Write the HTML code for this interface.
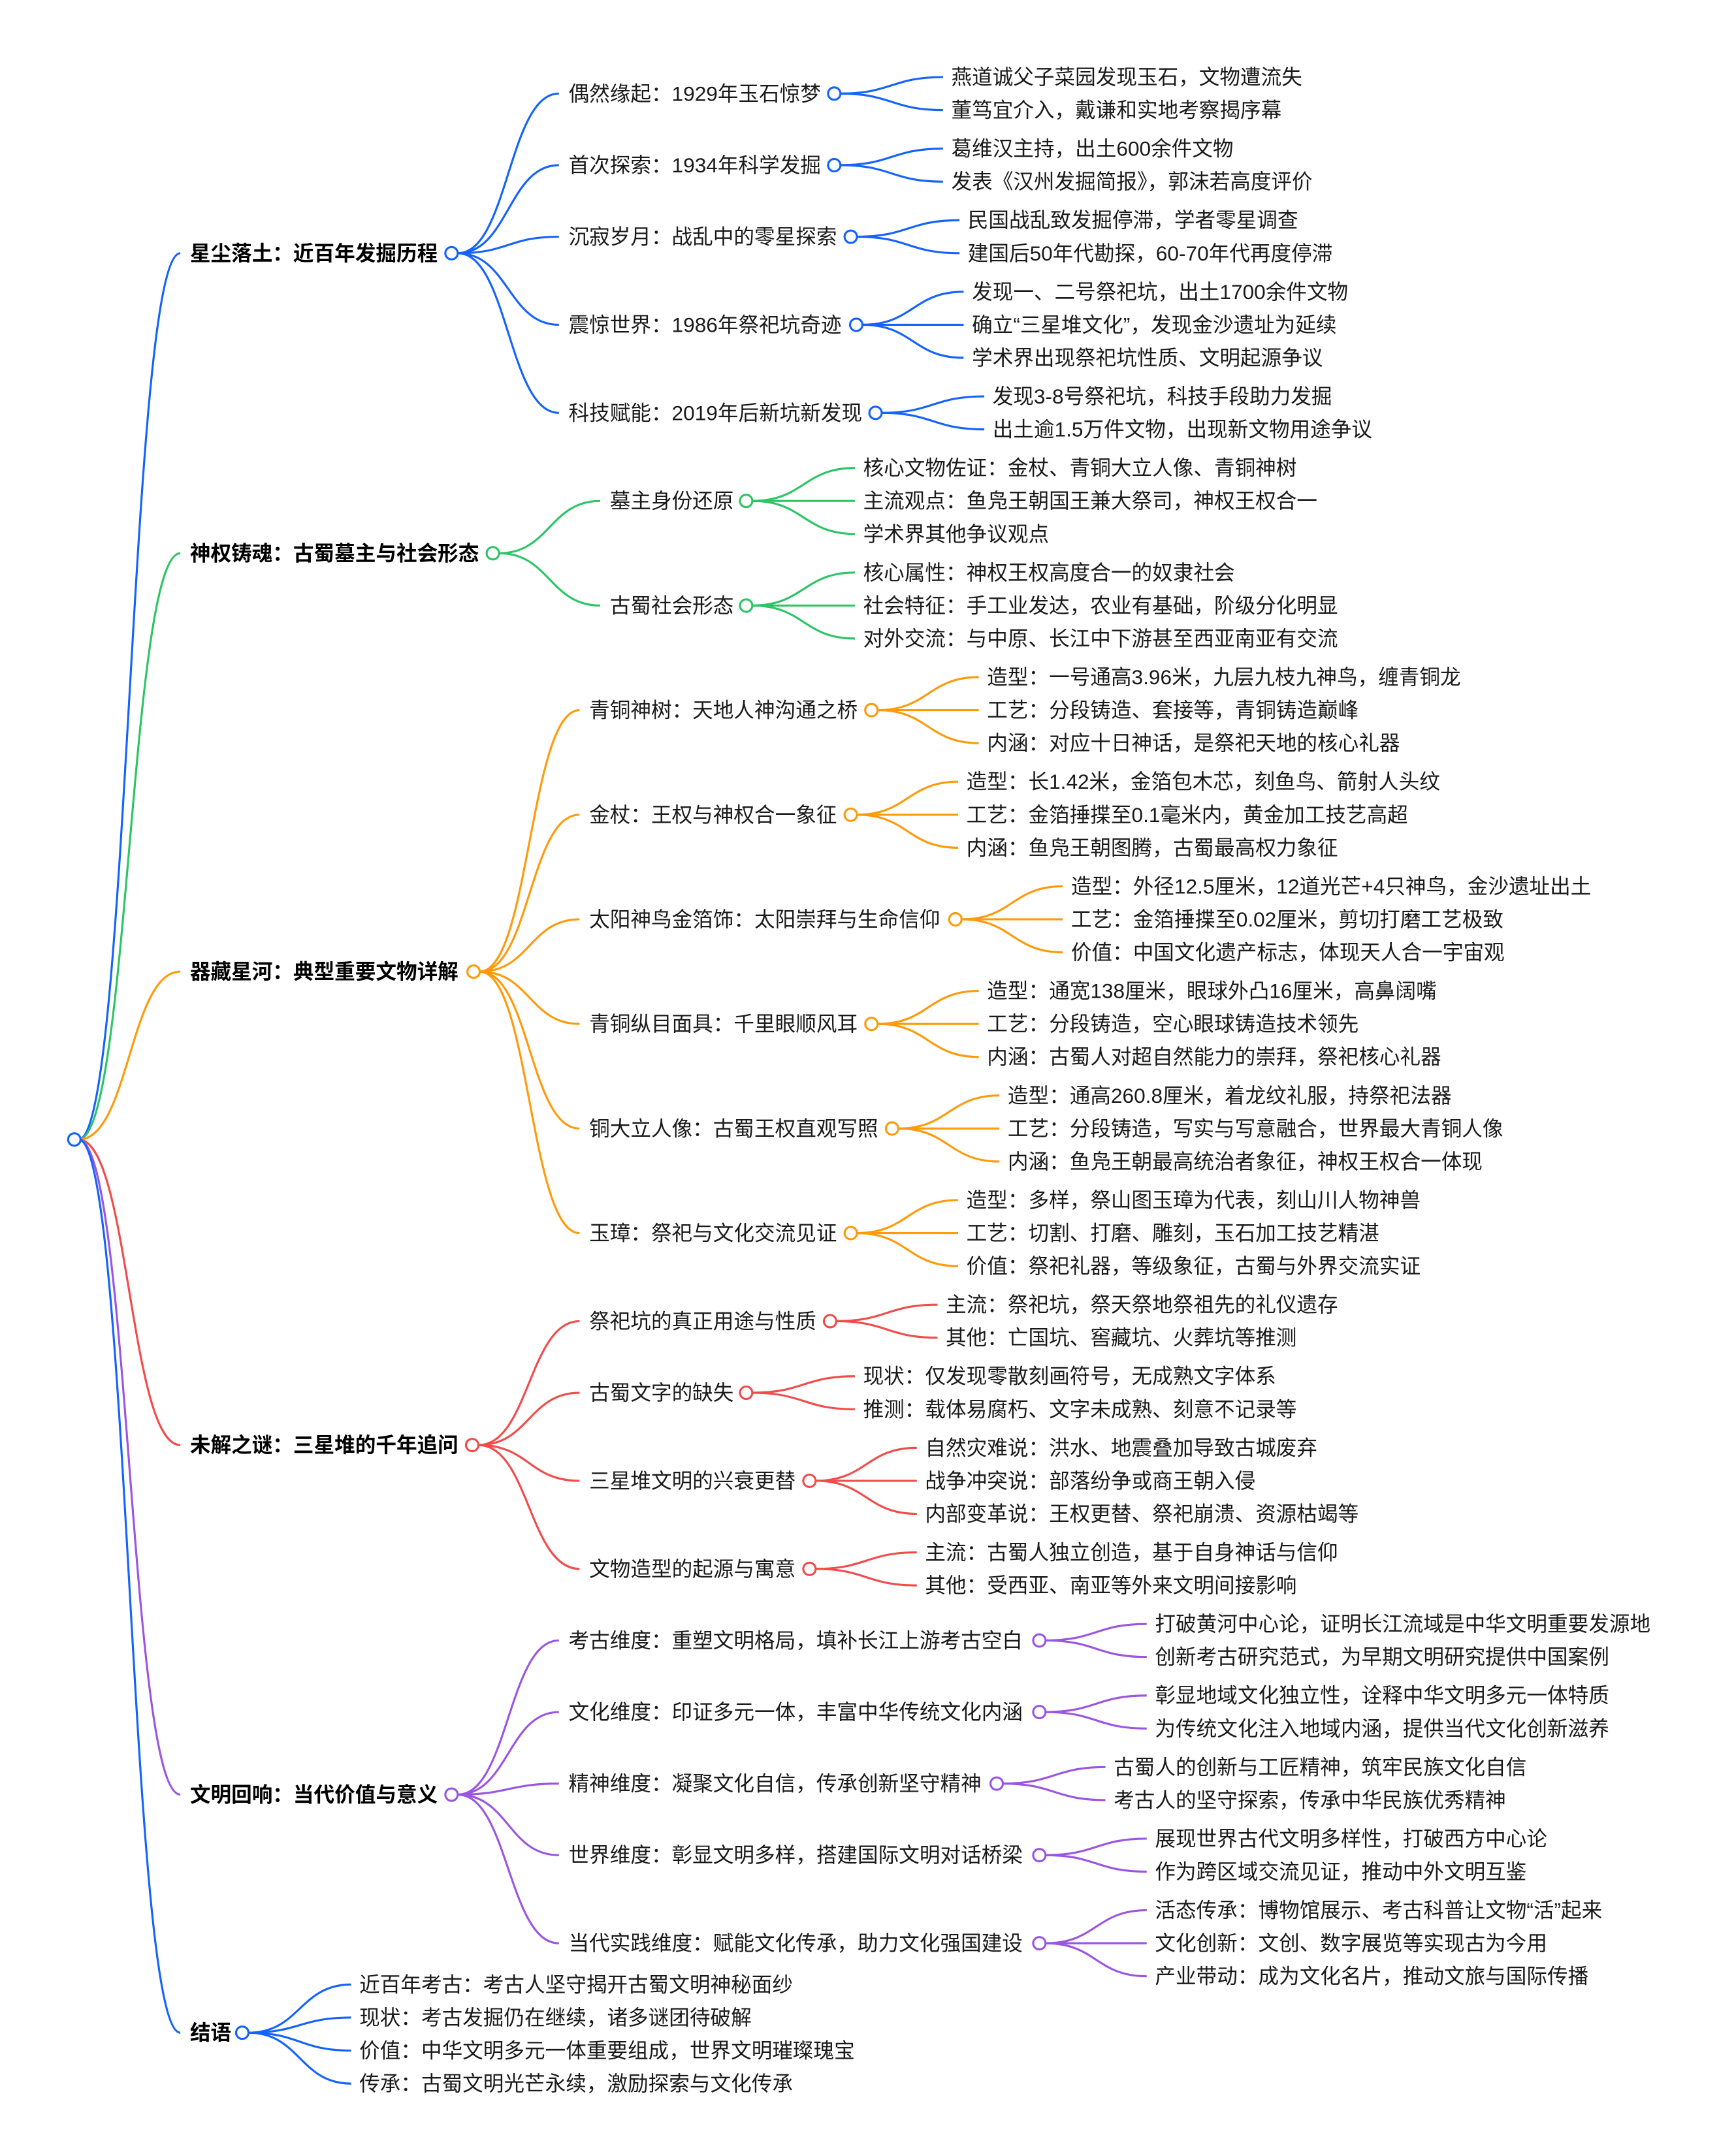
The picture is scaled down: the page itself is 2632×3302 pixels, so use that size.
<!DOCTYPE html>
<html><head><meta charset="utf-8"><style>
html,body{margin:0;padding:0;background:#fff;}
svg{display:block}
text{font-family:"Liberation Sans","Noto Sans CJK SC",sans-serif;font-size:15px;fill:#1a1a1a;dominant-baseline:central}
.b{font-weight:bold;fill:#000}
</style></head><body>
<svg id="s" width="2632" height="3302" viewBox="0 0 1248.7 1566.6" preserveAspectRatio="none" xmlns="http://www.w3.org/2000/svg">
<g id="e" fill="none" stroke-width="1.5"></g>
<g id="c" fill="#fff" stroke-width="1.5"></g>
<g>
<text class="b" x="138" y="184">星尘落土：近百年发掘历程</text>
<text x="413" y="68">偶然缘起：1929年玉石惊梦</text>
<text x="691" y="56">燕道诚父子菜园发现玉石，文物遭流失</text>
<text x="691" y="80">董笃宜介入，戴谦和实地考察揭序幕</text>
<text x="413" y="120">首次探索：1934年科学发掘</text>
<text x="691" y="108">葛维汉主持，出土600余件文物</text>
<text x="691" y="132">发表《汉州发掘简报》，郭沫若高度评价</text>
<text x="413" y="172">沉寂岁月：战乱中的零星探索</text>
<text x="703" y="160">民国战乱致发掘停滞，学者零星调查</text>
<text x="703" y="184">建国后50年代勘探，60-70年代再度停滞</text>
<text x="413" y="236">震惊世界：1986年祭祀坑奇迹</text>
<text x="706" y="212">发现一、二号祭祀坑，出土1700余件文物</text>
<text x="706" y="236">确立“三星堆文化”，发现金沙遗址为延续</text>
<text x="706" y="260">学术界出现祭祀坑性质、文明起源争议</text>
<text x="413" y="300">科技赋能：2019年后新坑新发现</text>
<text x="721" y="288">发现3-8号祭祀坑，科技手段助力发掘</text>
<text x="721" y="312">出土逾1.5万件文物，出现新文物用途争议</text>

<text class="b" x="138" y="402">神权铸魂：古蜀墓主与社会形态</text>
<text x="443" y="364">墓主身份还原</text>
<text x="627" y="340">核心文物佐证：金杖、青铜大立人像、青铜神树</text>
<text x="627" y="364">主流观点：鱼凫王朝国王兼大祭司，神权王权合一</text>
<text x="627" y="388">学术界其他争议观点</text>
<text x="443" y="440">古蜀社会形态</text>
<text x="627" y="416">核心属性：神权王权高度合一的奴隶社会</text>
<text x="627" y="440">社会特征：手工业发达，农业有基础，阶级分化明显</text>
<text x="627" y="464">对外交流：与中原、长江中下游甚至西亚南亚有交流</text>

<text class="b" x="138" y="706">器藏星河：典型重要文物详解</text>
<text x="428" y="516">青铜神树：天地人神沟通之桥</text>
<text x="717" y="492">造型：一号通高3.96米，九层九枝九神鸟，缠青铜龙</text>
<text x="717" y="516">工艺：分段铸造、套接等，青铜铸造巅峰</text>
<text x="717" y="540">内涵：对应十日神话，是祭祀天地的核心礼器</text>
<text x="428" y="592">金杖：王权与神权合一象征</text>
<text x="702" y="568">造型：长1.42米，金箔包木芯，刻鱼鸟、箭射人头纹</text>
<text x="702" y="592">工艺：金箔捶揲至0.1毫米内，黄金加工技艺高超</text>
<text x="702" y="616">内涵：鱼凫王朝图腾，古蜀最高权力象征</text>
<text x="428" y="668">太阳神鸟金箔饰：太阳崇拜与生命信仰</text>
<text x="778" y="644">造型：外径12.5厘米，12道光芒+4只神鸟，金沙遗址出土</text>
<text x="778" y="668">工艺：金箔捶揲至0.02厘米，剪切打磨工艺极致</text>
<text x="778" y="692">价值：中国文化遗产标志，体现天人合一宇宙观</text>
<text x="428" y="744">青铜纵目面具：千里眼顺风耳</text>
<text x="717" y="720">造型：通宽138厘米，眼球外凸16厘米，高鼻阔嘴</text>
<text x="717" y="744">工艺：分段铸造，空心眼球铸造技术领先</text>
<text x="717" y="768">内涵：古蜀人对超自然能力的崇拜，祭祀核心礼器</text>
<text x="428" y="820">铜大立人像：古蜀王权直观写照</text>
<text x="732" y="796">造型：通高260.8厘米，着龙纹礼服，持祭祀法器</text>
<text x="732" y="820">工艺：分段铸造，写实与写意融合，世界最大青铜人像</text>
<text x="732" y="844">内涵：鱼凫王朝最高统治者象征，神权王权合一体现</text>
<text x="428" y="896">玉璋：祭祀与文化交流见证</text>
<text x="702" y="872">造型：多样，祭山图玉璋为代表，刻山川人物神兽</text>
<text x="702" y="896">工艺：切割、打磨、雕刻，玉石加工技艺精湛</text>
<text x="702" y="920">价值：祭祀礼器，等级象征，古蜀与外界交流实证</text>

<text class="b" x="138" y="1050">未解之谜：三星堆的千年追问</text>
<text x="428" y="960">祭祀坑的真正用途与性质</text>
<text x="687" y="948">主流：祭祀坑，祭天祭地祭祖先的礼仪遗存</text>
<text x="687" y="972">其他：亡国坑、窖藏坑、火葬坑等推测</text>
<text x="428" y="1012">古蜀文字的缺失</text>
<text x="627" y="1000">现状：仅发现零散刻画符号，无成熟文字体系</text>
<text x="627" y="1024">推测：载体易腐朽、文字未成熟、刻意不记录等</text>
<text x="428" y="1076">三星堆文明的兴衰更替</text>
<text x="672" y="1052">自然灾难说：洪水、地震叠加导致古城废弃</text>
<text x="672" y="1076">战争冲突说：部落纷争或商王朝入侵</text>
<text x="672" y="1100">内部变革说：王权更替、祭祀崩溃、资源枯竭等</text>
<text x="428" y="1140">文物造型的起源与寓意</text>
<text x="672" y="1128">主流：古蜀人独立创造，基于自身神话与信仰</text>
<text x="672" y="1152">其他：受西亚、南亚等外来文明间接影响</text>

<text class="b" x="138" y="1304">文明回响：当代价值与意义</text>
<text x="413" y="1192">考古维度：重塑文明格局，填补长江上游考古空白</text>
<text x="839" y="1180">打破黄河中心论，证明长江流域是中华文明重要发源地</text>
<text x="839" y="1204">创新考古研究范式，为早期文明研究提供中国案例</text>
<text x="413" y="1244">文化维度：印证多元一体，丰富中华传统文化内涵</text>
<text x="839" y="1232">彰显地域文化独立性，诠释中华文明多元一体特质</text>
<text x="839" y="1256">为传统文化注入地域内涵，提供当代文化创新滋养</text>
<text x="413" y="1296">精神维度：凝聚文化自信，传承创新坚守精神</text>
<text x="809" y="1284">古蜀人的创新与工匠精神，筑牢民族文化自信</text>
<text x="809" y="1308">考古人的坚守探索，传承中华民族优秀精神</text>
<text x="413" y="1348">世界维度：彰显文明多样，搭建国际文明对话桥梁</text>
<text x="839" y="1336">展现世界古代文明多样性，打破西方中心论</text>
<text x="839" y="1360">作为跨区域交流见证，推动中外文明互鉴</text>
<text x="413" y="1412">当代实践维度：赋能文化传承，助力文化强国建设</text>
<text x="839" y="1388">活态传承：博物馆展示、考古科普让文物“活”起来</text>
<text x="839" y="1412">文化创新：文创、数字展览等实现古为今用</text>
<text x="839" y="1436">产业带动：成为文化名片，推动文旅与国际传播</text>

<text class="b" x="138" y="1477">结语</text>
<text x="261" y="1442">近百年考古：考古人坚守揭开古蜀文明神秘面纱</text>
<text x="261" y="1466">现状：考古发掘仍在继续，诸多谜团待破解</text>
<text x="261" y="1490">价值：中华文明多元一体重要组成，世界文明璀璨瑰宝</text>
<text x="261" y="1514">传承：古蜀文明光芒永续，激励探索与文化传承</text>
</g>
</svg>
<script>
var B="#1463ff",G="#2cc565",O="#ff9a0a",R="#f24b4b",P="#9b55e3";
var T=[
[328,184,B,138,[[606,68,413,[56,80],691],[606,120,413,[108,132],691],[618,172,413,[160,184],703],[622,236,413,[212,236,260],706],[636,300,413,[288,312],721]]],
[358,402,G,138,[[542,364,443,[340,364,388],627],[542,440,443,[416,440,464],627]]],
[344,706,O,138,[[633,516,428,[492,516,540],717],[618,592,428,[568,592,616],702],[694,668,428,[644,668,692],778],[633,744,428,[720,744,768],717],[648,820,428,[796,820,844],732],[618,896,428,[872,896,920],702]]],
[343,1050,R,138,[[603,960,428,[948,972],687],[542,1012,428,[1000,1024],627],[588,1076,428,[1052,1076,1100],672],[588,1140,428,[1128,1152],672]]],
[328,1304,P,138,[[755,1192,413,[1180,1204],839],[755,1244,413,[1232,1256],839],[724,1296,413,[1284,1308],809],[755,1348,413,[1336,1360],839],[755,1412,413,[1388,1412,1436],839]]],
[176,1477,B,138,[[0,0,0,[1442,1466,1490,1514],261]]]
];
var NS="http://www.w3.org/2000/svg",E=document.getElementById("e"),C=document.getElementById("c");
function ed(x1,y1,x2,y2,col){var p=document.createElementNS(NS,"path");var m=(x1+x2)/2;
p.setAttribute("d","M"+x1+" "+y1+" C"+m+" "+y1+" "+m+" "+y2+" "+x2+" "+y2);p.setAttribute("stroke",col);E.appendChild(p);}
function ci(x,y,col){var c=document.createElementNS(NS,"circle");c.setAttribute("cx",x);c.setAttribute("cy",y);c.setAttribute("r",4.5);c.setAttribute("stroke",col);C.appendChild(c);}
var RX=54,RY=828;ci(RX,RY,B);
T.forEach(function(a){var cx=a[0],y=a[1],col=a[2];
ed(RX+3,RY,a[3]-7,y,col);ci(cx,y,col);
a[4].forEach(function(k){
 if(k[0]===0){k[3].forEach(function(ly){ed(cx+4.5,y,k[4]-6,ly,col);});return;}
 ed(cx+4.5,y,k[2]-7,k[1],col);ci(k[0],k[1],col);
 k[3].forEach(function(ly){ed(k[0]+4.5,k[1],k[4]-6,ly,col);});
});});
</script>
</body></html>
